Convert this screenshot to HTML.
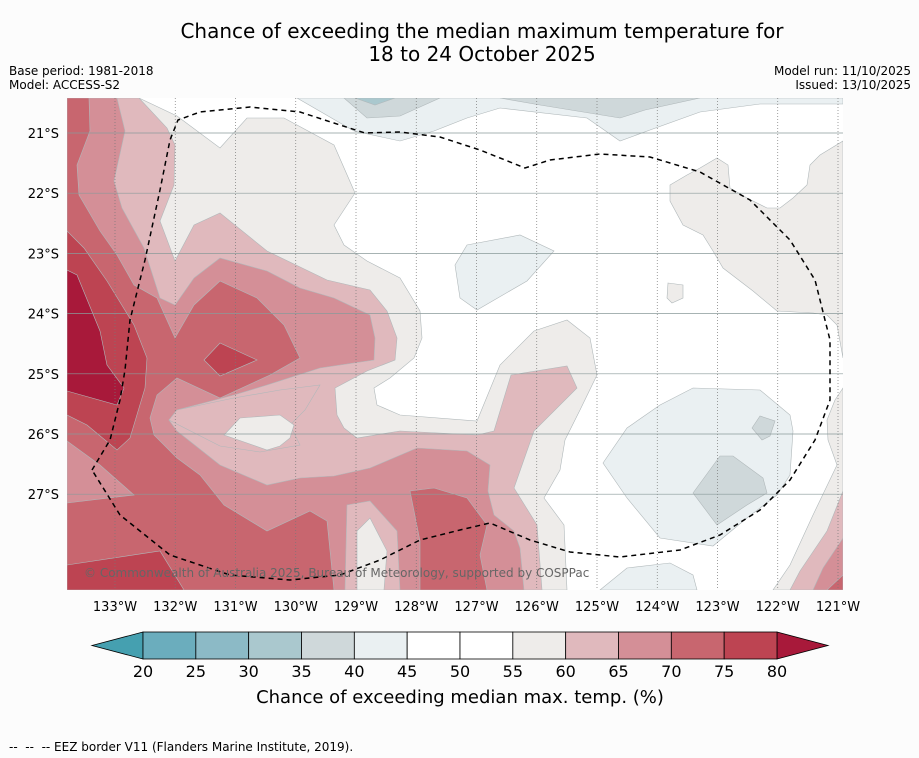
<!DOCTYPE html>
<html><head><meta charset="utf-8">
<style>
body{margin:0;background:#fcfcfc;font-family:"Liberation Sans","DejaVu Sans",sans-serif;}
#wrap{position:relative;width:919px;height:758px;overflow:hidden;background:#fcfcfc}
svg text{font-family:"DejaVu Sans","Liberation Sans",sans-serif}
</style></head>
<body>
<div id="wrap">
<svg id="svg" width="919" height="758" xmlns="http://www.w3.org/2000/svg">
<text x="482" y="38" font-size="20" text-anchor="middle" fill="#000">Chance of exceeding the median maximum temperature for</text>
<text x="482" y="61" font-size="20" text-anchor="middle" fill="#000">18 to 24 October 2025</text>
<text x="9" y="75" font-size="12">Base period: 1981-2018</text>
<text x="9" y="89" font-size="12">Model: ACCESS-S2</text>
<text x="911" y="75" font-size="12" text-anchor="end">Model run: 11/10/2025</text>
<text x="911" y="89" font-size="12" text-anchor="end">Issued: 13/10/2025</text>
<defs><clipPath id="mc"><rect x="67" y="98" width="776" height="492"/></clipPath></defs>
<g clip-path="url(#mc)" stroke="#b0b8ba" stroke-width="0.6">
<rect x="67" y="98" width="776" height="492" fill="#ffffff" stroke="none"/>
<polygon fill="#eeecea" points="67,98 139,98 177,116 220,148 247,118 284,118 334,145 355,193 334,225 344,245 367,261 400,278 420,311 422,338 414,358 390,378 374,388 377,405 400,415 477,421 500,365 534,331 567,320 590,338 597,375 580,410 565,440 560,470 544,498 564,525 567,590 67,590"/>
<polygon fill="#eeecea" points="670,185 687,175 700,168 717,158 728,165 730,188 747,198 767,208 780,208 793,198 807,185 810,165 820,155 843,141 843,358 837,325 827,315 813,313 777,311 753,291 723,268 713,251 703,235 683,225 670,201"/>
<polygon fill="#eeecea" points="843,388 835,400 827,420 828,440 837,465 813,515 790,565 773,590 843,590"/>
<polygon fill="#eeecea" points="668,283 683,285 683,298 672,303 667,298"/>
<polygon fill="#eaf0f2" points="297,98 354,131 400,141 434,131 467,118 500,108 587,118 620,141 650,130 700,112 760,104 843,104 843,98"/>
<polygon fill="#cfd8da" points="344,98 367,118 400,116 440,98"/>
<polygon fill="#cfd8da" points="500,98 540,105 620,118 645,110 700,98"/>
<polygon fill="#aac8ce" points="355,98 375,105 395,98"/>
<polygon fill="#eaf0f2" points="455,265 467,245 520,235 554,251 527,281 477,310 460,298"/>
<polygon fill="#eaf0f2" points="603,463 627,428 660,405 693,388 760,390 790,415 793,431 790,475 777,495 747,518 713,546 660,538 627,498"/>
<polygon fill="#cfd8da" points="693,493 720,456 733,456 763,478 767,493 747,505 717,525"/>
<polygon fill="#cfd8da" points="752,428 760,416 775,421 770,436 762,440"/>
<polygon fill="#eaf0f2" points="600,590 627,568 670,563 693,575 697,590"/>
<polygon fill="#e0b9bd" points="67,98 139,98 167,128 175,145 174,185 160,221 175,261 194,225 220,213 267,251 327,280 370,290 387,311 397,338 395,360 367,371 335,388 337,415 344,428 357,438 400,431 477,435 494,431 511,375 567,366 577,388 534,431 514,488 537,525 542,590 67,590"/>
<polygon fill="#e0b9bd" points="843,491 827,531 800,571 790,590 843,590"/>
<polygon fill="#d48f97" points="67,98 117,98 125,131 114,181 122,208 144,248 160,298 175,305 194,278 220,258 267,271 300,288 334,298 370,315 375,338 374,360 320,368 267,385 234,395 177,410 169,420 177,431 220,465 267,485 300,478 334,476 370,468 417,448 467,451 490,465 488,491 494,515 514,531 520,548 524,590 67,590"/>
<polygon fill="#e0b9bd" points="169,420 177,410 234,398 280,390 320,385 305,410 290,425 300,445 260,452 220,446"/>
<polygon fill="#eeecea" points="224,435 240,418 280,415 294,425 290,438 280,446 267,450"/>
<polygon fill="#d48f97" points="843,538 823,568 813,590 843,590"/>
<polygon fill="#c8666f" points="67,98 89,98 90,131 77,165 79,195 100,231 117,255 134,285 157,298 175,338 194,305 220,281 257,298 284,325 300,358 270,375 220,398 177,378 157,395 150,418 154,435 177,458 200,475 224,505 267,531 310,511 327,521 334,590 67,590"/>
<polygon fill="#d48f97" points="67,441 100,465 134,495 67,503"/>
<polygon fill="#c8666f" points="410,491 434,488 467,498 487,525 480,555 487,590 420,590 420,541"/>
<polygon fill="#e0b9bd" points="347,505 370,501 397,531 400,590 345,590"/>
<polygon fill="#eeecea" points="357,531 370,518 387,551 384,590 357,590"/>
<polygon fill="#c8666f" points="843,575 827,590 843,590"/>
<polygon fill="#bd4452" points="67,231 84,248 107,281 134,325 147,358 145,388 130,438 117,450 87,425 67,415"/>
<polygon fill="#bd4452" points="67,565 160,551 184,590 67,590"/>
<polygon fill="#bd4452" points="204,360 220,343 257,360 220,376"/>
<polygon fill="#a8193a" points="67,270 77,275 100,331 107,365 124,388 117,405 67,391"/>
<g id="grid" stroke="#777" stroke-width="0.7" fill="none"></g>
<path fill="none" stroke="#000" stroke-width="1.5" stroke-dasharray="5,4" d="M92,470 L110,440 L120,400 L125,370 L130,320 L145,260 L160,190 L170,140 L178,120 L200,112 L250,107 L300,112 L340,125 L365,133 L400,132 L440,137 L480,150 L505,160 L525,168 L550,160 L600,154 L650,157 L700,172 L750,200 L790,240 L815,280 L830,340 L830,400 L815,440 L790,480 L760,510 L720,535 L680,550 L620,557 L570,552 L530,540 L490,523 L460,530 L420,540 L380,560 L340,575 L290,580 L230,575 L170,555 L120,515 Z"/>
</g>
<text x="84" y="577" font-size="12" fill="#666">© Commonwealth of Australia 2025, Bureau of Meteorology, supported by COSPPac</text>
<g id="axes"></g>
<g id="cbar"></g>
<text x="460" y="703" font-size="18" text-anchor="middle">Chance of exceeding median max. temp. (%)</text>
<text x="9" y="751" font-size="12">--&#160;&#160;--&#160;&#160;-- EEZ border V11 (Flanders Marine Institute, 2019).</text>
</svg>
</div>
<script>
const lonTicks=[133,132,131,130,129,128,127,126,125,124,123,122,121];
const latTicks=[21,22,23,24,25,26,27];
const cbLevels=[20,25,30,35,40,45,50,55,60,65,70,75,80];
const cbColors=["#6badbd","#8cbac6","#aac8ce","#cfd8da","#eaf0f2","#ffffff","#ffffff","#eeecea","#e0b9bd","#d48f97","#c8666f","#bd4452"];
const cbUnder="#45a0b0", cbOver="#a8193a";
const NS="http://www.w3.org/2000/svg";
function xLon(l){return 115+(133-l)*60.25;}
function yLat(l){return 133+(l-21)*60.2;}
function xCb(v){return 143+(v-20)*(634/60);}
function mk(t,a,p){const e=document.createElementNS(NS,t);for(const k in a)e.setAttribute(k,a[k]);p.appendChild(e);return e;}
const grid=document.getElementById('grid'),axes=document.getElementById('axes'),cb=document.getElementById('cbar');
lonTicks.forEach(l=>{const x=xLon(l);
 const ln=mk('line',{x1:x,y1:98,x2:x,y2:590,'stroke-dasharray':'1,2'},grid);
 
 
 const t=mk('text',{x:x,y:611,'font-size':13,'text-anchor':'middle'},axes);t.textContent=l+'°W';
 
 });
latTicks.forEach(l=>{const y=yLat(l);
 const ln=mk('line',{x1:67,y1:y,x2:843,y2:y,stroke:'#8a9a9a'},grid);
 
 
 const t=mk('text',{x:59,y:y+5,'font-size':13,'text-anchor':'end'},axes);t.textContent=l+'°S';
 
 });
const y0=632,y1=659;
const tu=mk('polygon',{points:`92,${(y0+y1)/2} ${xCb(20)},${y0} ${xCb(20)},${y1}`,fill:cbUnder,stroke:'#000','stroke-width':0.8},cb);


const to=mk('polygon',{points:`${xCb(80)},${y0} 828,${(y0+y1)/2} ${xCb(80)},${y1}`,fill:cbOver,stroke:'#000','stroke-width':0.8},cb);


cbColors.forEach((c,i)=>{const r=mk('rect',{x:xCb(cbLevels[i]),y:y0,width:xCb(cbLevels[i+1])-xCb(cbLevels[i]),height:y1-y0,fill:c,stroke:'#000','stroke-width':0.8},cb);
 
 });
cbLevels.forEach(v=>{const t=mk('text',{x:xCb(v),y:677,'font-size':16,'text-anchor':'middle'},cb);t.textContent=v;
 
 });
</script>
</body></html>
